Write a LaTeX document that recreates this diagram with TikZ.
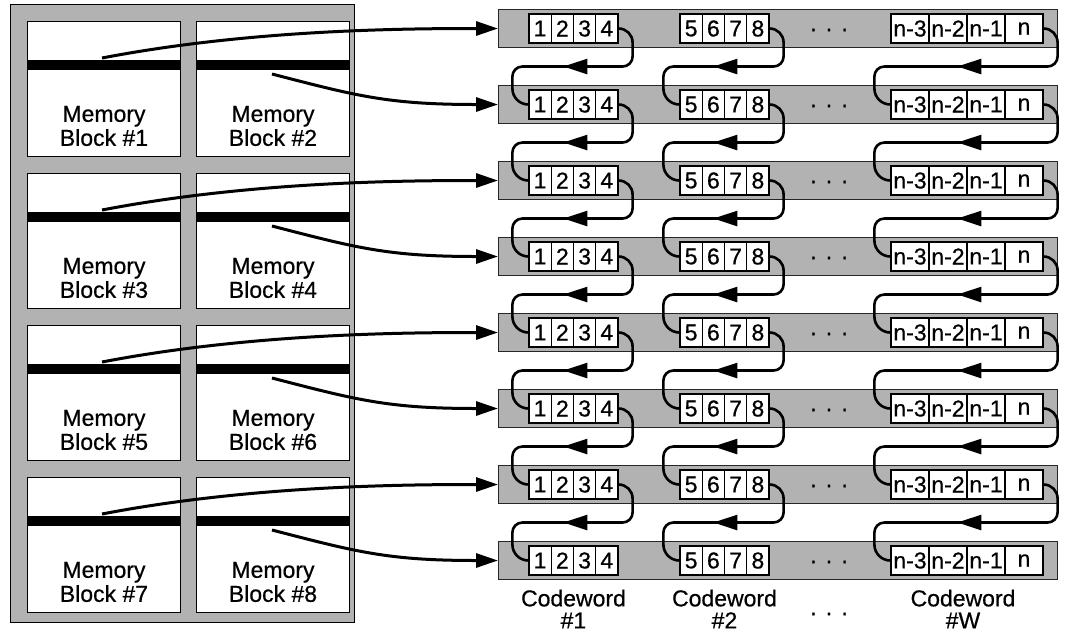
\documentclass[tikz,border=0pt]{standalone}
\usepackage{fontspec}
\setmainfont{Liberation Sans}[UprightFeatures={FakeBold=0.6}]
\usetikzlibrary{arrows.meta}
\definecolor{dither}{gray}{0.7}
\begin{document}
\begin{tikzpicture}[x=0.5pt,y=0.5pt,
  every node/.style={font=\fontsize{11.5pt}{12pt}\selectfont},
  panel/.style={draw=black, line width=0.6pt, fill=dither, inner sep=0,
    minimum width=172pt, minimum height=309pt, anchor=north west},
  membox/.style={draw=black, line width=0.5pt, fill=white, inner sep=0,
    minimum width=76.5pt, minimum height=67.5pt, anchor=north west},
  blocktext/.style={align=center, inner sep=0},
  strip/.style={draw=black!85, line width=0.5pt, fill=dither, inner sep=0,
    minimum width=279.5pt, minimum height=19pt, anchor=west},
  cellbase/.style={draw=black, line width=0.6pt, fill=white, inner sep=0,
    minimum height=14.5pt},
  narrowcell/.style={cellbase, minimum width=11.125pt},
  widecell/.style={cellbase, minimum width=19pt},
  cwlabel/.style={align=center, inner sep=0,
    font=\fontsize{11.5pt}{11pt}\selectfont},
  dots/.style={inner sep=0},
  memline/.style={line width=1.5pt, -{Triangle[length=11pt,width=7pt]}},
  loopline/.style={line width=1.3pt},
  looptip/.style={line width=1.3pt, -{Triangle[length=12pt,width=7.5pt]}},
]
\useasboundingbox (0,0) rectangle (1067,-634);

% memory array on the left
\node[panel] (panel) at (10,-4) {};
\foreach \r in {0,...,3} {
  \pgfmathtruncatemacro{\ka}{2*\r+1}
  \pgfmathtruncatemacro{\kb}{2*\r+2}
  \pgfmathsetmacro{\top}{-(21+152*\r)}
  \node[membox] (b\ka) at (27,\top) {};
  \node[membox] (b\kb) at (196,\top) {};
  \foreach \k in {\ka,\kb} {
    \fill ([shift={(0,-39)}]b\k.north west) rectangle ([shift={(0,-49)}]b\k.north east);
    \node[blocktext] (t\k) at ([shift={(0,-105)}]b\k.north) {Memory\\Block \#\k};
  }
  \coordinate (p\ka) at ([shift={(75,-37)}]b\ka.north west);
  \coordinate (p\kb) at ([shift={(76,-53)}]b\kb.north west);
}

% interleaved codeword rows
\foreach \i in {1,...,8} {
  \pgfmathsetmacro{\yc}{-(28.5+76*(\i-1))}
  \node[strip] (s\i) at (498,\yc) {};
  \foreach \k in {1,...,4} {
    \node[narrowcell] (c\i-1-\k) at ({529+22.25*(\k-0.5)},\yc) {\k};
  }
  \foreach \k/\t in {1/5,2/6,3/7,4/8} {
    \node[narrowcell] (c\i-2-\k) at ({680+22.25*(\k-0.5)},\yc) {\t};
  }
  \foreach \k/\t in {1/n-3,2/n-2,3/n-1,4/n} {
    \node[widecell] (c\i-3-\k) at ({891+38*(\k-0.5)},\yc) {\t};
  }
  \node[dots] (d\i) at (829,\yc-1.5) {.\kern4.6pt.\kern4.6pt.};
}

% block read-out lines
\foreach \r in {0,...,3} {
  \pgfmathtruncatemacro{\ka}{2*\r+1}
  \pgfmathtruncatemacro{\kb}{2*\r+2}
  \draw[memline] (p\ka) .. controls +(146,28) and +(-100,0) .. (s\ka.west);
  \draw[memline] (p\kb) .. controls +(85,-22) and +(-110,0) .. (s\kb.west);
}

% chaining from one row to the next
\foreach \i in {1,...,7} {
  \pgfmathtruncatemacro{\j}{\i+1}
  \foreach \g/\off in {1/35,2/34,3/67} {
    \draw[loopline] (c\i-\g-4.east) to[out=0,in=90] ++(14,-14) -- ++(0,-14)
      to[out=-90,in=0] ++(-10,-10) -- ([shift={(-6,38)}]c\j-\g-1.west)
      to[out=180,in=90] ++(-10,-10) -- ++(0,-12) to[out=-90,in=180] (c\j-\g-1.west);
    \draw[looptip] ([shift={(\off+16,38)}]c\j-\g-1.west) -- ([shift={(\off,38)}]c\j-\g-1.west);
  }
}

% codeword captions
\node[cwlabel] (cw1) at (573.5,-609) {Codeword\\\#1};
\node[cwlabel] (cw2) at (724.5,-609) {Codeword\\\#2};
\node[cwlabel] (cw3) at (963,-609) {Codeword\\\#W};
\node[dots] (cwd) at (829,-614) {.\kern4.6pt.\kern4.6pt.};
\end{tikzpicture}
\end{document}
